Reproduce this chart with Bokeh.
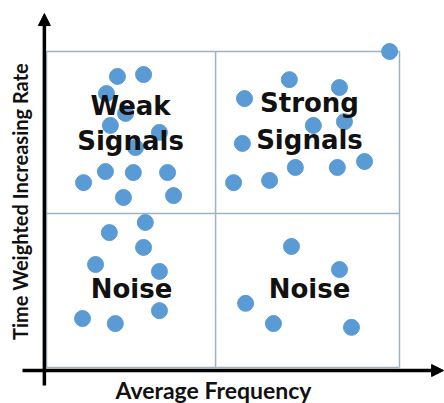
from bokeh.plotting import figure
from bokeh.models import Arrow, NormalHead, Label
from bokeh.embed import file_html
from bokeh.resources import INLINE
from bokeh.core.properties import value
import math

# ---- data ----
weak_x = [2.01, 2.75, 1.70, 2.24, 1.81, 3.20, 2.52, 1.67, 2.46, 3.43, 1.05, 2.18, 3.60]
weak_y = [9.21, 9.27, 8.67, 8.04, 7.66, 7.44, 6.96, 6.20, 6.17, 6.17, 5.85, 5.38, 5.44]
strong_x = [9.72, 6.88, 8.30, 5.61, 7.56, 8.44, 5.55, 7.05, 8.24, 9.01, 5.30, 6.32]
strong_y = [10.0, 9.11, 8.86, 8.51, 7.66, 7.78, 7.09, 6.33, 6.33, 6.52, 5.85, 5.92]
noise_l_x = [2.80, 1.78, 2.75, 1.39, 3.20, 3.20, 1.02, 1.95]
noise_l_y = [4.59, 4.27, 3.80, 3.26, 3.04, 1.80, 1.55, 1.39]
noise_r_x = [6.94, 8.30, 5.64, 6.43, 8.64]
noise_r_y = [3.83, 3.10, 2.03, 1.39, 1.27]

x_min, x_max, x_split = 0.0, 10.0, 4.79
y_min, y_max, y_split = 0.0, 10.0, 4.87

quad_texts = ["Weak", "Signals", "Strong", "Signals", "Noise", "Noise"]
quad_x = [2.38, 2.38, 7.45, 7.45, 2.41, 7.45]
quad_y = [8.29, 7.18, 8.38, 7.21, 2.47, 2.47]

x_label = "Average Frequency"
y_label = "Time Weighted Increasing Rate"

p = figure(width=444, height=403, x_range=(-1.303, 11.275), y_range=(-1.139, 11.614),
           output_backend="svg", toolbar_location=None, min_border=0,
           x_axis_type=None, y_axis_type=None)
p.grid.visible = False
p.outline_line_color = None
p.background_fill_color = "white"
p.border_fill_color = "white"

grid_color = "#9db3c2"
# quadrant box
p.segment(x0=[x_min, x_max, x_split, x_min, x_min, x_min],
          y0=[y_min, y_min, y_min, y_max, y_split, y_min],
          x1=[x_min, x_max, x_split, x_max, x_max, x_max],
          y1=[y_max, y_max, y_max, y_max, y_split, y_min],
          line_color=grid_color, line_width=1.5)

dot_color = "#5b9bd5"
all_x = weak_x + strong_x + noise_l_x + noise_r_x
all_y = weak_y + strong_y + noise_l_y + noise_r_y
p.scatter(all_x, all_y, size=16, fill_color=dot_color, line_color=dot_color)

p.text(quad_x, quad_y, text=quad_texts, text_align="center", text_baseline="alphabetic",
       text_font=value("DejaVu Sans"), text_font_style="bold", text_font_size="26px",
       text_color="#111111")

# axes arrows
p.add_layout(Arrow(end=NormalHead(size=12, fill_color="black", line_color="black"),
                   x_start=-0.06, y_start=-0.57, x_end=-0.06, y_end=11.2,
                   line_width=3.5, line_color="black"))
p.add_layout(Arrow(end=NormalHead(size=12, fill_color="black", line_color="black"),
                   x_start=-0.68, y_start=-0.095, x_end=11.25, y_end=-0.095,
                   line_width=3.5, line_color="black"))

p.add_layout(Label(x=4.73, y=-0.70, text=x_label, text_align="center", text_baseline="alphabetic",
                   text_font="Lato", text_font_style="bold", text_font_size="23px", text_color="#111111"))
p.add_layout(Label(x=-0.74, y=5.25, text=y_label, angle=math.pi / 2, text_align="center",
                   text_baseline="middle", text_font="Lato", text_font_style="bold",
                   text_font_size="20px", text_color="#111111"))

open("out.html", "w").write(file_html(p, INLINE))
